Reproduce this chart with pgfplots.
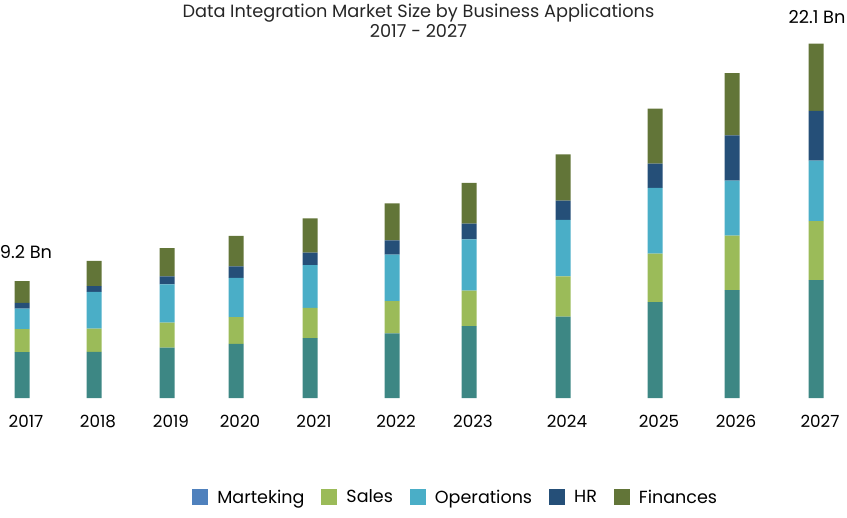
\documentclass[border=0pt]{standalone}
\usepackage{fontspec}
\setmainfont{Poppins}
\usepackage{pgfplots}
\usepackage{pgfplotstable}
\pgfplotsset{compat=1.18}

\definecolor{cMkt}{HTML}{3D8784}
\definecolor{cMktLeg}{HTML}{4F81BD}
\definecolor{cSales}{HTML}{9BBB59}
\definecolor{cOps}{HTML}{4AAEC7}
\definecolor{cHR}{HTML}{254F78}
\definecolor{cFin}{HTML}{627538}

% bar centre (px) and segment heights (Bn)
\pgfplotstableread{
x   mkt  sales ops  hr   fin
22  2.86 1.44  1.29 0.35 1.36
94  2.88 1.46  2.29 0.36 1.58
167 3.15 1.56  2.39 0.50 1.77
236 3.38 1.67  2.46 0.71 1.91
310 3.75 1.88  2.67 0.79 2.13
392 4.04 2.02  2.90 0.89 2.31
469 4.50 2.21  3.21 0.98 2.54
563 5.08 2.52  3.54 1.19 2.89
655 6.00 3.02  4.11 1.52 3.44
732 6.75 3.40  3.44 2.83 3.88
816 7.36 3.69  3.79 3.10 4.21
}\datatable

\begin{document}
\begin{tikzpicture}
\begin{axis}[
    name=ax,
    scale only axis,
    x=1bp, y=16bp,
    xmin=0, xmax=847,
    ymin=0, ymax=24.875,
    ybar stacked,
    bar width=15bp,
    axis line style={draw=none},
    tick style={draw=none},
    ytick=\empty,
    xtick={22,94,167,236,310,392,469,563,655,732,816},
    xticklabels={2017,2018,2019,2020,2021,2022,2023,2024,2025,2026,2027},
    xticklabel style={font=\fontsize{16.8}{19}\selectfont, xshift=4bp, yshift=-14bp},
    clip=false,
    legend columns=5,
    legend style={draw=none, at={(0.538,-0.249)}, anchor=center,
        font=\fontsize{17.6}{20}\selectfont,
        /tikz/every even column/.append style={column sep=15bp},
        /tikz/every odd column/.append style={column sep=7bp}},
    legend image code/.code={\fill[#1] (0bp,-8bp) rectangle (16bp,8bp);},
]
\addplot[fill=cMkt, draw=none,
    legend image code/.code={\fill[cMktLeg] (0bp,-8bp) rectangle (16bp,8bp);}]
    table[x=x, y=mkt] {\datatable};
\addplot[fill=cSales, draw=none] table[x=x, y=sales] {\datatable};
\addplot[fill=cOps, draw=none] table[x=x, y=ops] {\datatable};
\addplot[fill=cHR, draw=none] table[x=x, y=hr] {\datatable};
\addplot[fill=cFin, draw=none] table[x=x, y=fin] {\datatable};
\legend{Marteking, Sales, Operations, HR, Finances}

\node[align=center, text=black!85, font=\fontsize{17.8}{20.5}\selectfont]
    at (axis description cs:0.494,0.948) {Data Integration Market Size by Business Applications\\2017 - 2027};
\node[font=\fontsize{17.8}{20}\selectfont] at (axis cs:26,9.125) {9.2 Bn};
\node[font=\fontsize{17.8}{20}\selectfont] at (axis cs:817,23.81) {22.1 Bn};
\end{axis}
\pgfresetboundingbox
\path[use as bounding box] ([yshift=-119bp]ax.south west) rectangle (ax.north east);
\end{tikzpicture}
\end{document}
